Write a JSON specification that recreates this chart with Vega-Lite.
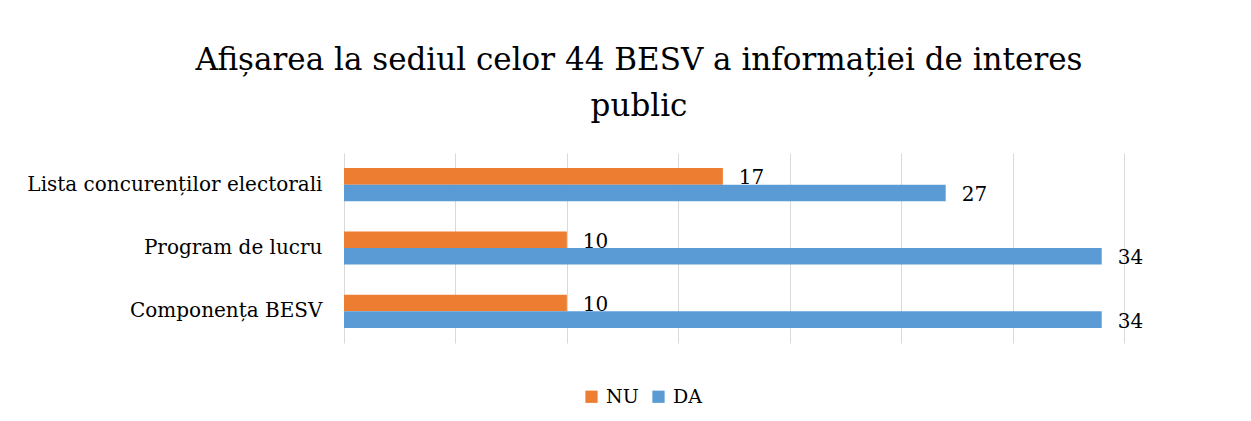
{
  "$schema": "https://vega.github.io/schema/vega-lite/v6.json",
  "width": 780,
  "height": 190,
  "autosize": "none",
  "padding": {"left": 344, "top": 153, "right": 127, "bottom": 78},
  "background": "white",
  "config": {
    "font": "DejaVu Serif",
    "view": {"stroke": null}
  },
  "title": {
    "text": ["Afișarea la sediul celor 44 BESV a informației de interes", "public"],
    "font": "DejaVu Serif",
    "fontSize": 31,
    "fontWeight": "normal",
    "color": "#000000",
    "anchor": "middle",
    "frame": "group",
    "dx": -95,
    "offset": 30,
    "lineHeight": 46
  },
  "data": {
    "values": [
      {"categorie": "Lista concurenților electorali", "raspuns": "NU", "valoare": 17},
      {"categorie": "Lista concurenților electorali", "raspuns": "DA", "valoare": 27},
      {"categorie": "Program de lucru", "raspuns": "NU", "valoare": 10},
      {"categorie": "Program de lucru", "raspuns": "DA", "valoare": 34},
      {"categorie": "Componența BESV", "raspuns": "NU", "valoare": 10},
      {"categorie": "Componența BESV", "raspuns": "DA", "valoare": 34}
    ]
  },
  "encoding": {
    "y": {
      "field": "categorie",
      "type": "nominal",
      "sort": ["Lista concurenților electorali", "Program de lucru", "Componența BESV"],
      "scale": {"paddingInner": 0.476, "paddingOuter": 0.238},
      "axis": {
        "title": null,
        "ticks": false,
        "domain": false,
        "labelFontSize": 20,
        "labelColor": "#000000",
        "labelPadding": 22,
        "labelLimit": 400
      }
    },
    "yOffset": {
      "field": "raspuns",
      "type": "nominal",
      "sort": ["NU", "DA"]
    },
    "x": {
      "field": "valoare",
      "type": "quantitative",
      "scale": {"domain": [0, 35], "nice": false},
      "axis": {
        "title": null,
        "labels": false,
        "ticks": false,
        "domain": false,
        "values": [0, 5, 10, 15, 20, 25, 30, 35],
        "grid": true,
        "gridColor": "#d9d9d9",
        "gridWidth": 1
      }
    }
  },
  "layer": [
    {
      "mark": {"type": "bar"},
      "encoding": {
        "color": {
          "field": "raspuns",
          "type": "nominal",
          "scale": {"domain": ["NU", "DA"], "range": ["#ED7D31", "#5B9BD5"]},
          "legend": {
            "title": null,
            "orient": "none",
            "legendX": 238,
            "legendY": 234,
            "direction": "horizontal",
            "symbolType": "square",
            "symbolSize": 150,
            "symbolStrokeWidth": 0,
            "labelFontSize": 19,
            "labelColor": "#000000",
            "columnPadding": 10,
            "labelOffset": 5
          }
        }
      }
    },
    {
      "mark": {"type": "text", "align": "left", "baseline": "middle", "dx": 16, "dy": 2, "fontSize": 20, "color": "#000000"},
      "encoding": {
        "text": {"field": "valoare", "type": "quantitative"}
      }
    }
  ]
}
